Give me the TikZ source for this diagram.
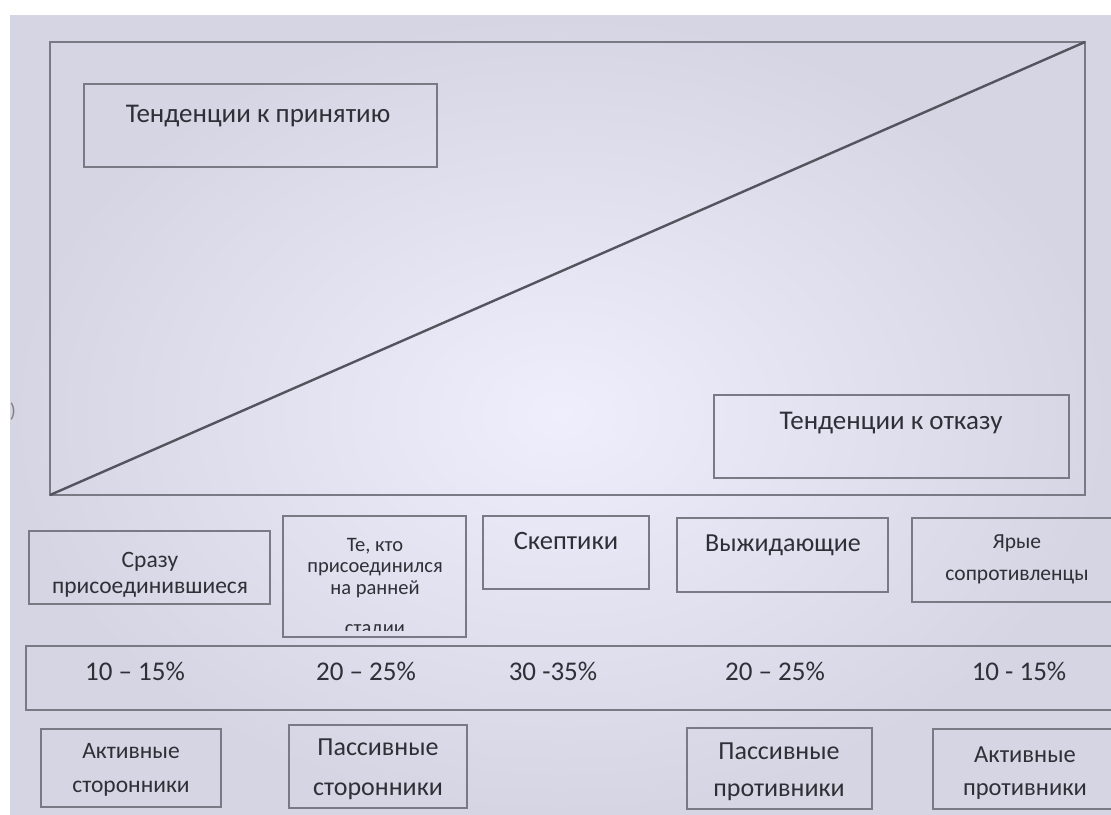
\documentclass[tikz,border=0pt]{standalone}
\usepackage{fontspec}
\setmainfont{Carlito}

\definecolor{slideInner}{HTML}{EEEEFC}
\definecolor{slideOuter}{HTML}{D5D5E3}
\definecolor{frameGray}{HTML}{7A7A84}
\definecolor{diagGray}{HTML}{54545F}
\definecolor{inkGray}{HTML}{2F2F37}

\tikzset{
	box/.style={draw=frameGray, line width=1.6pt, inner sep=0pt, outer sep=0pt},
	lbl/.style={text=inkGray, align=center, inner sep=0pt,
		font=\fontsize{27}{32}\selectfont},
	lblsmall/.style={lbl, font=\fontsize{20.5}{21.5}\selectfont},
	pct/.style={lbl, font=\fontsize{27}{32}\selectfont},
}

\begin{document}
\begin{tikzpicture}[x=1pt,y=-1pt]
		\useasboundingbox (0,0) rectangle (1111,814);
		\fill[white] (0,0) rectangle (1111,814);
		\shade[inner color=slideInner, outer color=slideOuter] (10,15) rectangle (1111,814);
		
		% main field with the diagonal
		\node[box, minimum width=1035, minimum height=453] (frame) at (567.5,268.5) {};
		\draw[diagGray, line width=2.4pt] (frame.south west) -- (frame.north east);
		\node[box, minimum width=353, minimum height=83] (accept) at (260.5,125.5) {};
		\node[lbl] (acceptT) at (258,116) {Тенденции к принятию};
		\node[box, minimum width=355, minimum height=83] (reject) at (891.5,436.5) {};
		\node[lbl] (rejectT) at (891,423) {Тенденции к отказу};
		\node[text=gray, font=\fontsize{20}{22}\selectfont] (stray) at (13,412) {)};
		
		% groups
		\node[box, minimum width=241, minimum height=73] (atonce) at (149.5,567.5) {};
		\node[lbl, font=\fontsize{23.5}{26}\selectfont] (atonceT) at (150,575) {Сразу\\присоединившиеся};
		\node[box, minimum width=183, minimum height=121] (early) at (374.5,576.5) {};
		\node[lblsmall] (earlyT) at (375,568) {Те, кто\\присоединился\\на ранней};
		\begin{scope}
			\clip (283,600) rectangle (466,630);
			\node[lblsmall] (earlyE) at (375,631) {стадии};
		\end{scope}
		\node[box, minimum width=166, minimum height=73] (skeptic) at (566,552.5) {};
		\node[lbl, font=\fontsize{26.5}{30}\selectfont] (skepticT) at (566,541) {Скептики};
		\node[box, minimum width=211, minimum height=74] (waiting) at (782.5,555) {};
		\node[lbl, font=\fontsize{26}{30}\selectfont] (waitingT) at (783,545) {Выжидающие};
		\node[box, minimum width=213, minimum height=84] (fierce) at (1018.5,560) {};
		\node[lbl, font=\fontsize{21.5}{32}\selectfont] (fierceT) at (1017,559) {Ярые\\сопротивленцы};
		
		% shares
		\node[box, minimum width=1099, minimum height=64] (shares) at (575.5,678) {};
		\node[pct] (p1) at (135,671) {10 – 15\%};
		\node[pct] (p2) at (366,671) {20 – 25\%};
		\node[pct] (p3) at (553,671) {30 -35\%};
		\node[pct] (p4) at (775,671) {20 – 25\%};
		\node[pct] (p5) at (1019,671) {10 - 15\%};
		
		% attitude
		\node[box, minimum width=180, minimum height=78] (actpro) at (131,768) {};
		\node[lbl, font=\fontsize{23.5}{34}\selectfont] (actproT) at (131,770) {Активные\\сторонники};
		\node[box, minimum width=178, minimum height=83] (paspro) at (378,766.5) {};
		\node[lbl, font=\fontsize{26}{40}\selectfont] (pasproT) at (378,769) {Пассивные\\сторонники};
		\node[box, minimum width=185, minimum height=81] (pascon) at (779.5,768.5) {};
		\node[lbl, font=\fontsize{26}{37}\selectfont] (pasconT) at (779,771.5) {Пассивные\\противники};
		\node[box, minimum width=192, minimum height=80] (actcon) at (1029,769) {};
		\node[lbl, font=\fontsize{24.5}{33}\selectfont] (actconT) at (1025,773.5) {Активные\\противники};
\end{tikzpicture}
\end{document}
